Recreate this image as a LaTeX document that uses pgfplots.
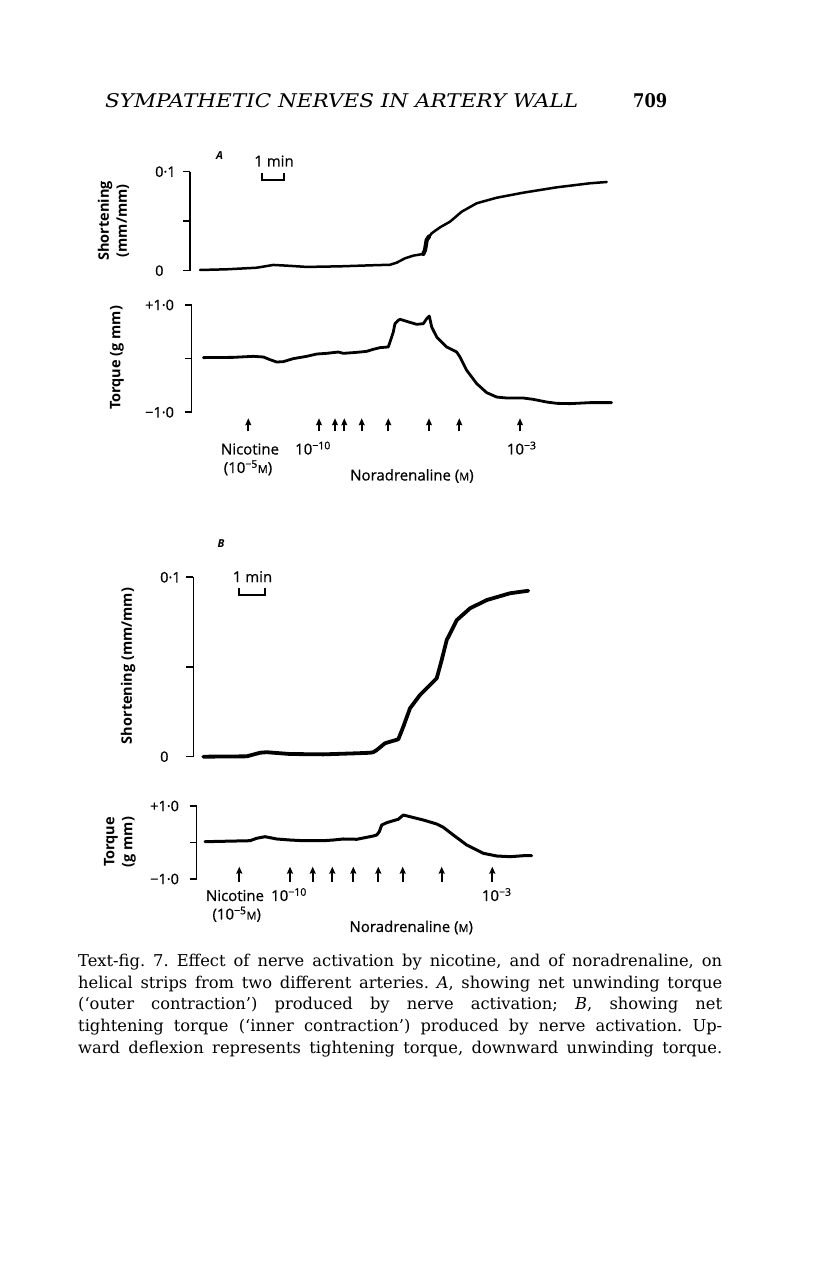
\documentclass[border=0pt]{standalone}
\usepackage{fontspec}
\setmainfont{DejaVu Serif}
\setsansfont{Open Sans}
\newfontfamily\lf{Open Sans}[FakeBold=0.6]
\usepackage{pgfplots}
\pgfplotsset{compat=1.18}
\usetikzlibrary{arrows.meta}
\newcommand{\lab}{\lf\fontsize{15}{15}\selectfont}
\newcommand{\ylab}{\sffamily\bfseries\fontsize{14.5}{18}\selectfont}
\newcommand{\smM}{{\fontsize{11}{11}\selectfont M}}
\newcommand{\capline}[2]{\node[anchor=base west, inner sep=0pt] at (78pt,#1pt) {\makebox[644pt][s]{\frenchspacing\fontsize{16.3}{16.3}\selectfont #2}};}
\pgfplotsset{
  rec/.style={scale only axis, axis x line=none, axis y line=left,
    y axis line style={-, line width=1.6pt},
    clip=false, tick align=outside, major tick length=7pt,
    every tick/.style={black, line width=1.6pt},
    yticklabel style={font=\lf\fontsize{14.5}{14.5}\selectfont, anchor=west, inner sep=0pt},
    xtick=\empty},
  trace/.style={black, line width=2.5pt, line join=round, line cap=round, no markers},
  evt/.style={black, line width=1.7pt, -{Stealth[length=7pt,width=6pt,inset=1pt]}, no markers},
}
\begin{document}
\begin{tikzpicture}
\useasboundingbox[fill=white] (0pt,0pt) rectangle (816pt,1264pt);

% ---------------- header ----------------
\node[anchor=base west, inner sep=0pt] at (105pt,1156pt) {\resizebox{473pt}{14pt}{\itshape SYMPATHETIC NERVES IN ARTERY WALL}};
\node[anchor=base west, inner sep=0pt] at (633pt,1156pt) {\resizebox{34pt}{14pt}{\bfseries 709}};

% ---------------- A: shortening ----------------
\begin{axis}[rec, at={(190pt,993.3pt)}, anchor=south west,
  width=425pt, height=99pt, xmin=190, xmax=615, ymin=0, ymax=0.1,
  ytick={0,0.05,0.1}, yticklabels={0,{},0·1},
  yticklabel style={xshift=-28pt}]
\addplot[trace] table[row sep=\\]{x y\\
200 0.0007\\ 226.7 0.0014\\ 256.7 0.0030\\ 273.3 0.0058\\ 286.7 0.0051\\
306.7 0.0038\\ 340 0.0044\\ 373.3 0.0055\\ 390 0.0060\\ 396.7 0.0081\\
405 0.0125\\ 413.3 0.0152\\ 423.3 0.0169\\ 425 0.0209\\ 426.7 0.0310\\
431.7 0.0378\\ 440 0.0438\\ 450 0.0495\\ 461.7 0.0596\\ 476.7 0.0681\\
496.7 0.0737\\ 523.3 0.0788\\ 556.7 0.0842\\ 590 0.0883\\ 606.7 0.0896\\};
\addplot[black, line width=4.2pt, line cap=round] table[row sep=\\]{x y\\
423.3 0.0169\\ 425 0.0209\\ 426.7 0.0310\\ 429 0.0345\\};
\end{axis}

% ---------------- A: torque ----------------
\begin{axis}[rec, at={(191.5pt,851.7pt)}, anchor=south west,
  width=423.5pt, height=107.3pt, xmin=191.5, xmax=615, ymin=-1, ymax=1,
  ytick={-1,0,1}, yticklabels={−1·0,{},+1·0},
  yticklabel style={xshift=-39.5pt}]
\addplot[trace, line width=2.8pt] table[row sep=\\]{x y\\
203.3 0.019\\ 233.3 0.024\\ 253.3 0.043\\ 263.3 0.031\\ 270 -0.019\\
276.7 -0.063\\ 283.3 -0.056\\ 293.3 0.000\\ 306.7 0.043\\ 316.7 0.086\\
326.7 0.099\\ 338.3 0.123\\ 343.3 0.099\\ 353.3 0.112\\ 360 0.123\\
366.7 0.136\\ 373.3 0.174\\ 380 0.205\\ 388.3 0.218\\ 391.7 0.404\\
393.3 0.496\\ 395 0.653\\ 396.7 0.683\\ 398.3 0.714\\ 400 0.733\\
406.7 0.695\\ 416.7 0.639\\ 423.3 0.652\\ 426.7 0.745\\ 429.3 0.794\\
431.7 0.589\\ 436.7 0.403\\ 446.7 0.217\\ 456.7 0.123\\ 460 0.030\\
466.7 -0.218\\ 476.7 -0.466\\ 486.7 -0.634\\ 496.7 -0.716\\ 506.7 -0.734\\
523.3 -0.734\\ 533.3 -0.759\\ 546.7 -0.809\\ 556.7 -0.833\\ 570 -0.839\\
590 -0.820\\ 611.7 -0.820\\};
\addplot[evt, quiver={u=0,v=0.242}] table[row sep=\\]{x y\\
248.3 -1.354\\ 319 -1.354\\ 335 -1.354\\ 344.3 -1.354\\ 361.7 -1.354\\
388.3 -1.354\\ 429 -1.354\\ 459.3 -1.354\\ 520 -1.354\\};
\end{axis}

% ---------------- B: shortening ----------------
\begin{axis}[rec, at={(193.3pt,507.3pt)}, anchor=south west,
  width=341.7pt, height=179.4pt, xmin=193.3, xmax=535, ymin=0, ymax=0.1,
  ytick={0,0.05,0.1}, yticklabels={0,{},0·1},
  yticklabel style={xshift=-26.3pt}]
\addplot[trace, line width=3.8pt] table[row sep=\\]{x y\\
203.3 0.0000\\ 246.7 0.0002\\ 260 0.0022\\ 266.7 0.0025\\ 290 0.0015\\
323.3 0.0013\\ 356.7 0.0019\\ 370 0.0022\\ 373.3 0.0025\\ 376.7 0.0037\\
380 0.0052\\ 385 0.0075\\ 398.3 0.0097\\ 403.3 0.0167\\ 410 0.0270\\
420 0.0344\\ 436.7 0.0437\\ 441.7 0.0539\\ 446.7 0.0650\\ 456.7 0.0761\\
470 0.0827\\ 486.7 0.0873\\ 510 0.0911\\ 528.3 0.0925\\};
\end{axis}

% ---------------- B: torque ----------------
\begin{axis}[rec, at={(196.5pt,385pt)}, anchor=south west,
  width=338.5pt, height=73pt, xmin=196.5, xmax=535, ymin=-1, ymax=1,
  ytick={-1,0,1}, yticklabels={−1·0,{},+1·0},
  yticklabel style={xshift=-39.5pt}]
\addplot[trace, line width=3pt] table[row sep=\\]{x y\\
205 0.022\\ 250 0.049\\ 256.7 0.115\\ 265 0.159\\ 276.7 0.096\\
290 0.068\\ 303.3 0.049\\ 323.3 0.049\\ 333.3 0.068\\ 343.3 0.096\\
356.7 0.088\\ 366.7 0.142\\ 373.3 0.178\\ 376.7 0.205\\ 379.3 0.296\\
381.7 0.479\\ 386.7 0.542\\ 393.3 0.597\\ 398.3 0.636\\ 403.3 0.753\\
410 0.707\\ 423.3 0.616\\ 436.7 0.507\\ 443.3 0.416\\ 453.3 0.205\\
466.7 -0.068\\ 483.3 -0.296\\ 496.7 -0.370\\ 510 -0.389\\ 523.3 -0.362\\
531.7 -0.362\\};
\addplot[evt, quiver={u=0,v=0.411}] table[row sep=\\]{x y\\
239.3 -1.074\\ 290 -1.074\\ 312.7 -1.074\\ 332.3 -1.074\\ 353.3 -1.074\\
378.3 -1.074\\ 402.7 -1.074\\ 441.7 -1.074\\ 492.3 -1.074\\};
\end{axis}

% ---------------- annotations A ----------------
\node[font=\sffamily\bfseries\itshape\fontsize{11}{11}\selectfont] at (219.5pt,1108pt) {A};
\node[font=\lab] at (274pt,1103pt) {1 min};
\draw[line width=1.6pt] (261.7pt,1091.3pt) -- (261.7pt,1084pt) -- (284pt,1084pt) -- (284pt,1091.3pt);
\node[rotate=90, align=center, font=\ylab] at (113.5pt,1043pt) {Shortening\\(mm/mm)};
\node[rotate=90, font=\ylab] at (117pt,906pt) {Torque (g mm)};
\node[anchor=base, font=\lab] at (250pt,809.5pt) {Nicotine};
\node[anchor=base, font=\lab] at (248pt,791pt) {(10\textsuperscript{−5}\smM)};
\node[anchor=base, font=\lab] at (313pt,809.5pt) {10\textsuperscript{−10}};
\node[anchor=base, font=\lab] at (521.7pt,809.5pt) {10\textsuperscript{−3}};
\node[anchor=base west, font=\lab] at (346.7pt,783.5pt) {Noradrenaline (\smM)};

% ---------------- annotations B ----------------
\node[font=\sffamily\bfseries\itshape\fontsize{11}{11}\selectfont] at (221pt,720pt) {B};
\node[font=\lab] at (252.5pt,687.3pt) {1 min};
\draw[line width=1.6pt] (239pt,676pt) -- (239pt,669pt) -- (265pt,669pt) -- (265pt,676pt);
\node[rotate=90, font=\ylab] at (128pt,598pt) {Shortening (mm/mm)};
\node[rotate=90, align=center, font=\ylab] at (120pt,422pt) {Torque\\(g mm)};
\node[anchor=base, font=\lab] at (235pt,363pt) {Nicotine};
\node[anchor=base, font=\lab] at (236.7pt,344.5pt) {(10\textsuperscript{−5}\smM)};
\node[anchor=base, font=\lab] at (289pt,363pt) {10\textsuperscript{−10}};
\node[anchor=base, font=\lab] at (496.7pt,363pt) {10\textsuperscript{−3}};
\node[anchor=base west, font=\lab] at (346pt,332pt) {Noradrenaline (\smM)};

% ---------------- caption ----------------
\capline{297}{Text-fig. 7. Effect of nerve activation by nicotine, and of noradrenaline, on}
\capline{275.5}{helical strips from two different arteries. \textit{A}, showing net unwinding torque}
\capline{254}{(‘outer contraction’) produced by nerve activation; \textit{B}, showing net}
\capline{232}{tightening torque (‘inner contraction’) produced by nerve activation. Up-}
\capline{210}{ward deflexion represents tightening torque, downward unwinding torque.}
\end{tikzpicture}
\end{document}
